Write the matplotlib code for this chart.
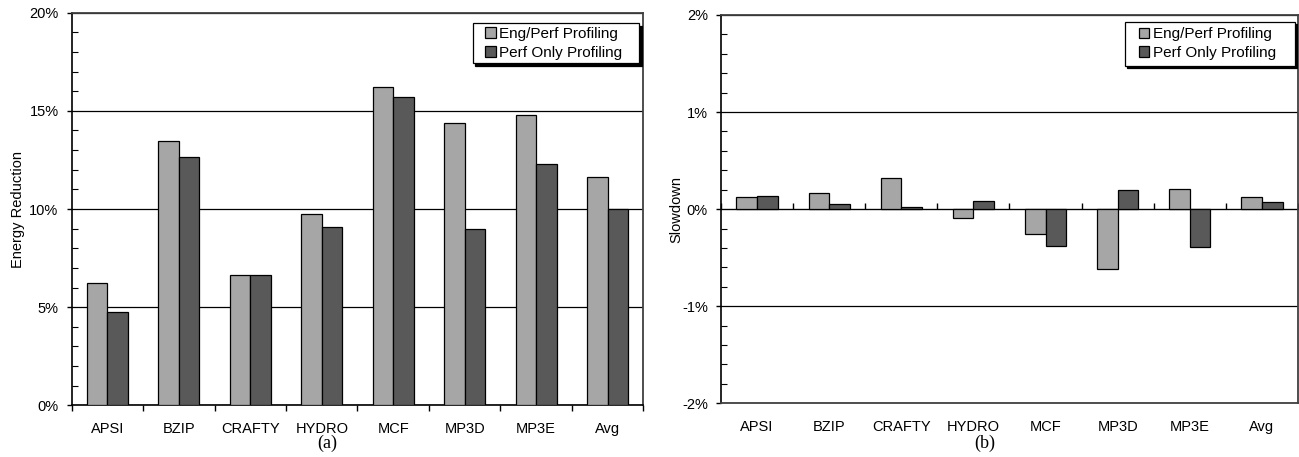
import numpy as np
import matplotlib
matplotlib.use("Agg")
import matplotlib.pyplot as plt
from matplotlib.patches import Rectangle
from matplotlib.transforms import offset_copy
from matplotlib.ticker import MultipleLocator, FuncFormatter

plt.rcParams["font.family"] = ["Liberation Sans", "DejaVu Sans"]

benchmarks = ["APSI", "BZIP", "CRAFTY", "HYDRO", "MCF", "MP3D", "MP3E", "Avg"]
series_names = ["Eng/Perf Profiling", "Perf Only Profiling"]

# energy reduction (%)
energy_engperf = [6.23, 13.48, 6.65, 9.73, 16.2, 14.4, 14.8, 11.65]
energy_perfonly = [4.75, 12.67, 6.65, 9.08, 15.7, 8.98, 12.28, 10.02]

# slowdown (%)
slow_engperf = [0.12, 0.17, 0.32, -0.09, -0.255, -0.62, 0.21, 0.12]
slow_perfonly = [0.14, 0.05, 0.02, 0.08, -0.375, 0.20, -0.39, 0.07]

light = "#a6a6a6"
dark = "#595959"
bw = 1 / 3.5
fs = 10.5

fig = plt.figure(figsize=(12.99, 4.57), dpi=100)
ax1 = fig.add_axes([0.0552, 0.1131, 0.4400, 0.8591])
ax2 = fig.add_axes([0.5550, 0.1175, 0.4442, 0.8497])

pct = FuncFormatter(lambda v, p: f"{v:.0f}%")


def draw(ax, a, b, ylim, major, minor, ylabel, lpad, box):
    x = np.arange(len(benchmarks))
    ax.bar(x - bw / 2, a, bw, color=light, edgecolor="black", linewidth=0.9,
           label=series_names[0], zorder=3)
    ax.bar(x + bw / 2, b, bw, color=dark, edgecolor="black", linewidth=0.9,
           label=series_names[1], zorder=3)
    ax.set_xlim(-0.5, len(benchmarks) - 0.5)
    ax.set_ylim(*ylim)
    ax.yaxis.set_major_locator(MultipleLocator(major))
    ax.yaxis.set_minor_locator(MultipleLocator(minor))
    ax.yaxis.set_major_formatter(pct)
    ax.tick_params(axis="y", which="major", direction="out", length=3.5,
                   width=1, pad=6, labelsize=fs)
    ax.tick_params(axis="y", which="minor", direction="in", length=4, width=0.8)
    ax.grid(axis="y", which="major", color="black", linewidth=0.9, zorder=0)
    ax.set_ylabel(ylabel, fontsize=fs, labelpad=lpad)
    for s in ["top", "right"]:
        ax.spines[s].set_color("#404040")
        ax.spines[s].set_linewidth(1.3)
    ax.spines["left"].set_linewidth(1.2)

    # legend box with a hard black shadow
    x0, y0, x1, y1 = box
    shadow_tr = offset_copy(ax.transAxes, fig=ax.figure, x=2.5, y=-2.5, units="dots")
    ax.add_patch(Rectangle((x0, y0), x1 - x0, y1 - y0, transform=shadow_tr,
                           facecolor="black", edgecolor="black", linewidth=0.9,
                           zorder=5))
    ax.add_patch(Rectangle((x0, y0), x1 - x0, y1 - y0, transform=ax.transAxes,
                           facecolor="white", edgecolor="black", linewidth=0.9,
                           zorder=6))
    leg = ax.legend(loc="center", bbox_to_anchor=((x0 + x1) / 2 - 0.004, (y0 + y1) / 2),
                    fontsize=11, frameon=False,
                    handlelength=0.7, handleheight=0.7, handletextpad=0.25,
                    borderpad=0, labelspacing=0.3, borderaxespad=0)
    leg.set_zorder(7)


draw(ax1, energy_engperf, energy_perfonly, (0, 20), 5, 1, "Energy Reduction", 3,
     (0.7015, 0.871, 0.993, 0.973))
ax1.set_xticks(np.arange(-0.5, len(benchmarks)))
ax1.set_xticklabels([])
ax1.set_xticks(np.arange(len(benchmarks)), minor=True)
ax1.set_xticklabels(benchmarks, minor=True)
ax1.tick_params(axis="x", which="major", direction="out", length=4.5, width=1)
ax1.tick_params(axis="x", which="minor", length=0, pad=12, labelsize=fs)
ax1.spines["bottom"].set_linewidth(1.2)

draw(ax2, slow_engperf, slow_perfonly, (-2, 2), 1, 0.2, "Slowdown", -1,
     (0.700, 0.8694, 0.9948, 0.9827))
ax2.set_xticks(np.arange(len(benchmarks)))
ax2.set_xticklabels(benchmarks)
ax2.tick_params(axis="x", which="major", length=0, pad=12, labelsize=fs)
ax2.spines["bottom"].set_color("#404040")
ax2.spines["bottom"].set_linewidth(1.3)
sec = ax2.secondary_xaxis(0.5)
sec.set_xticks(np.arange(-0.5, len(benchmarks)))
sec.set_xticklabels([])
sec.tick_params(axis="x", direction="out", length=4.5, width=1,
                labelbottom=False, labeltop=False)
sec.spines["bottom"].set_linewidth(1.0)

fig.text(0.252, 0.030, "(a)", family=["Liberation Serif"], fontsize=13,
         ha="center", va="center")
fig.text(0.758, 0.030, "(b)", family=["Liberation Serif"], fontsize=13,
         ha="center", va="center")

fig.savefig("out.png", dpi=100)
